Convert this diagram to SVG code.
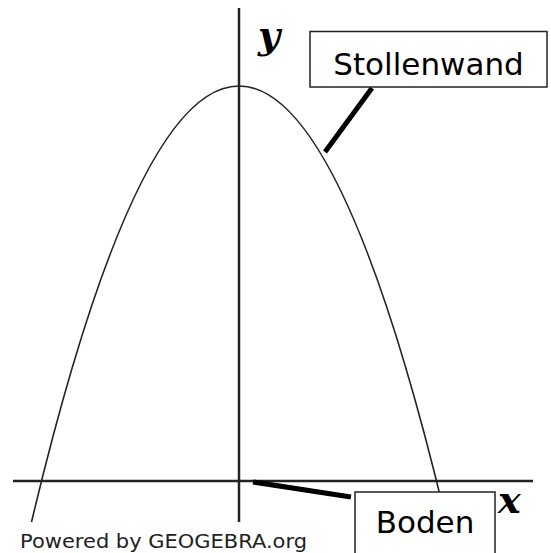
<svg xmlns="http://www.w3.org/2000/svg" width="551" height="553" viewBox="0 0 551 553">
<style>
.axis{stroke:#222;stroke-width:2.5;fill:none}
.curve{stroke:#222;stroke-width:1.6;fill:none}
.lead{stroke:#000;stroke-width:5;fill:none}
.box{fill:#fff;stroke:#222;stroke-width:1.5}
.lbl{font-family:"DejaVu Sans","Verdana",sans-serif;font-size:31px;fill:#000}
.math{font-family:"DejaVu Serif",serif;font-style:italic;font-weight:bold;font-size:38px;fill:#000}
.credit{font-family:"DejaVu Sans","Verdana",sans-serif;font-size:20px;fill:#222}
</style>
<rect width="551" height="553" fill="#fff"/>
<g id="axes">
<line class="axis" x1="13" y1="481" x2="533" y2="481"/>
<line class="axis" x1="239" y1="8" x2="239" y2="522"/>
<text class="math" x="258" y="48">y</text>
<text class="math" x="498" y="513">x</text>
</g>
<g id="parabola">
<path class="curve" d="M31.5,522 Q239,-350 446.5,522"/>
</g>
<g id="connectors">
<line class="lead" x1="372" y1="88" x2="325" y2="152"/>
<line class="lead" x1="253" y1="482" x2="351" y2="497"/>
</g>
<g id="stollenwand">
<rect class="box" x="310" y="31.5" width="237" height="55.5"/>
<text class="lbl" x="428.5" y="75" text-anchor="middle">Stollenwand</text>
</g>
<g id="boden">
<rect class="box" x="355" y="492" width="140" height="70"/>
<text class="lbl" x="425" y="533" text-anchor="middle">Boden</text>
</g>
<g id="credit">
<text class="credit" x="20" y="548" textLength="287" lengthAdjust="spacingAndGlyphs">Powered by GEOGEBRA.org</text>
</g>
</svg>
